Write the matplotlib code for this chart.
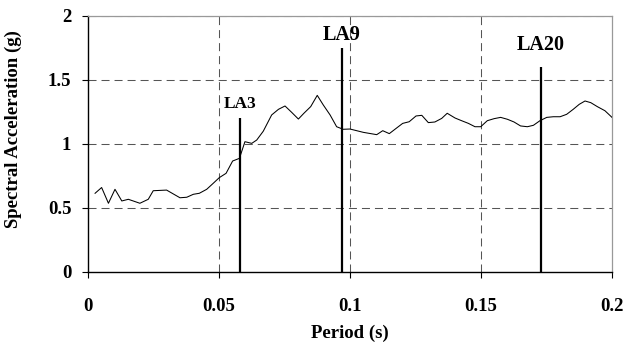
import matplotlib
matplotlib.use("Agg")
import matplotlib.pyplot as plt

# Response spectrum (period in s, spectral acceleration in g)
period = [0.0027, 0.0052, 0.0078, 0.0103, 0.0129, 0.0154, 0.0198, 0.0230, 0.0249,
          0.0300, 0.0351, 0.0377, 0.0402, 0.0425, 0.0453, 0.0478, 0.0501, 0.0527,
          0.0552, 0.0578, 0.0599, 0.0625, 0.0644, 0.0669, 0.0701, 0.0727, 0.0752,
          0.0777, 0.0803, 0.0824, 0.0850, 0.0875, 0.0898, 0.0924, 0.0949, 0.0974,
          0.1000, 0.1051, 0.1102, 0.1125, 0.1150, 0.1176, 0.1201, 0.1226, 0.1252,
          0.1274, 0.1299, 0.1324, 0.1350, 0.1371, 0.1401, 0.1426, 0.1452, 0.1477,
          0.1499, 0.1524, 0.1550, 0.1575, 0.1601, 0.1626, 0.1651, 0.1677, 0.1700,
          0.1725, 0.1751, 0.1776, 0.1802, 0.1827, 0.1852, 0.1875, 0.1897, 0.1919,
          0.1944, 0.1973, 0.2000]
accel = [0.615, 0.660, 0.537, 0.646, 0.555, 0.568, 0.537, 0.568, 0.635,
         0.640, 0.580, 0.584, 0.607, 0.615, 0.646, 0.693, 0.737, 0.771,
         0.867, 0.888, 1.018, 1.005, 1.031, 1.100, 1.227, 1.271, 1.297,
         1.248, 1.195, 1.240, 1.292, 1.380, 1.305, 1.227, 1.135, 1.115,
         1.117, 1.091, 1.073, 1.104, 1.081, 1.122, 1.161, 1.174, 1.219,
         1.224, 1.167, 1.172, 1.200, 1.240, 1.203, 1.182, 1.161, 1.135,
         1.135, 1.182, 1.198, 1.208, 1.193, 1.172, 1.141, 1.135, 1.146,
         1.182, 1.208, 1.213, 1.213, 1.232, 1.271, 1.310, 1.336, 1.323,
         1.292, 1.260, 1.208]

# Record markers: name, period, line height, label height, label size
rec_names = ["LA3", "LA9", "LA20"]
rec_period = [0.0581, 0.0969, 0.1729]
rec_height = [1.20, 1.75, 1.60]
rec_label_y = [1.31, 1.85, 1.77]
rec_label_size = [12.5, 14.5, 14.5]

x_ticks = [0, 0.05, 0.1, 0.15, 0.2]
x_tick_labels = ["0", "0.05", "0.1", "0.15", "0.2"]
y_ticks = [0, 0.5, 1, 1.5, 2]
y_tick_labels = ["0", "0.5", "1", "1.5", "2"]

plt.rcParams["font.family"] = ["Liberation Serif", "DejaVu Serif"]
plt.rcParams["font.weight"] = "bold"

fig = plt.figure(figsize=(6.24, 3.45), dpi=100)
ax = fig.add_axes([88 / 624, 1 - 272 / 345, 524 / 624, 256 / 345])

ax.set_xlim(0, 0.2)
ax.set_ylim(0, 2)

dash = (0, (7.7, 4.8))
for xv in x_ticks[1:-1]:
    ax.axvline(xv, color="#555555", lw=0.75, linestyle=dash, zorder=1)
for yv in y_ticks[1:]:
    ax.axhline(yv, color="#555555", lw=0.75, linestyle=dash, zorder=1)

ax.plot(period, accel, color="black", lw=0.75, zorder=3)

for name, xp, h, ly, fs in zip(rec_names, rec_period, rec_height, rec_label_y, rec_label_size):
    ax.vlines(xp, 0, h, color="black", lw=1.6, zorder=4)
    ax.text(xp, ly, name, ha="center", va="center", fontsize=fs,
            fontweight="bold", zorder=5)

ax.set_xticks(x_ticks)
ax.set_xticklabels(x_tick_labels)
ax.set_yticks(y_ticks)
ax.set_yticklabels(y_tick_labels)
ax.tick_params(direction="out", length=4, width=0.8, labelsize=13.5, pad=8)
ax.tick_params(axis="x", pad=15)

for side in ("left", "bottom"):
    ax.spines[side].set_color("black")
    ax.spines[side].set_linewidth(1.0)
for side in ("top", "right"):
    ax.spines[side].set_color("#999999")
    ax.spines[side].set_linewidth(0.9)

ax.set_xlabel("Period (s)", fontsize=13.5, fontweight="bold", labelpad=7)
ax.set_ylabel("Spectral Acceleration (g)", fontsize=13.5, fontweight="bold")
ax.yaxis.set_label_coords(-0.125, 0.56)

fig.savefig("out.png", dpi=100)
